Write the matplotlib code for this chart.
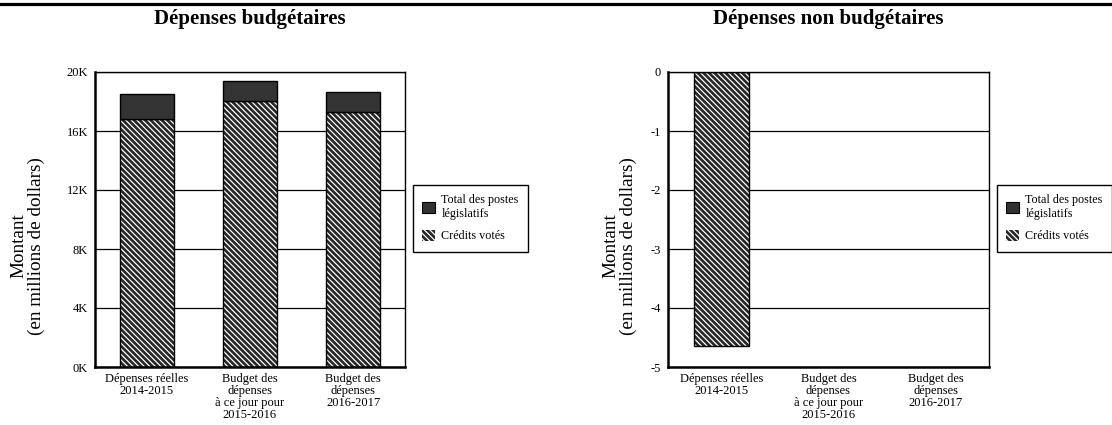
import matplotlib
matplotlib.use("Agg")
import matplotlib.pyplot as plt
from matplotlib.patches import Patch
from matplotlib.lines import Line2D

plt.rcParams['font.family'] = ['Liberation Serif', 'DejaVu Serif']
plt.rcParams['hatch.linewidth'] = 0.9

categories = ["Dépenses réelles\n2014-2015",
              "Budget des\ndépenses\nà ce jour pour\n2015-2016",
              "Budget des\ndépenses\n2016-2017"]

# Dépenses budgétaires (millions $)
budg_credits = [16810, 18060, 17310]
budg_legis = [1680, 1310, 1330]
budg_ticks = [0, 4000, 8000, 12000, 16000, 20000]
budg_ticklabels = ["0K", "4K", "8K", "12K", "16K", "20K"]

# Dépenses non budgétaires (millions $)
nonb_credits = [-4.65, 0, 0]
nonb_legis = [0, 0, 0]
nonb_ticks = [0, -1, -2, -3, -4, -5]
nonb_ticklabels = ["0", "-1", "-2", "-3", "-4", "-5"]

legend_labels = ["Total des postes\nlégislatifs", "Crédits votés"]
titles = ["Dépenses budgétaires", "Dépenses non budgétaires"]
ylabel = "Montant\n(en millions de dollars)"

fig = plt.figure(figsize=(11.12, 4.25), dpi=100)

# top rule
fig.add_artist(Line2D([0, 1], [1 - 4.0/425, 1 - 4.0/425], color='black', lw=2.3,
                      transform=fig.transFigure))

axes_pos = [[95/1112, 1 - 367/425, 310/1112, 295/425],
            [668/1112, 1 - 367/425, 321/1112, 295/425]]
legend_x = [413/1112, 997/1112]
ylabel_x = [28/1112, 620/1112]

datasets = [(budg_credits, budg_legis, budg_ticks, budg_ticklabels, (0, 20000)),
            (nonb_credits, nonb_legis, nonb_ticks, nonb_ticklabels, (-5, 0))]

width = 0.52
hatch_face = '#262626'
legis_color = '#333333'
HATCH = '\\\\\\\\\\\\'

for i, (cred, legis, ticks, tlabels, ylim) in enumerate(datasets):
    ax = fig.add_axes(axes_pos[i])
    x = list(range(len(categories)))
    ax.set_xlim(-0.5, len(categories) - 0.5)
    ax.set_ylim(*ylim)
    ax.set_yticks(ticks)
    ax.set_yticklabels(tlabels, fontsize=9)
    ax.tick_params(axis='y', length=0, pad=5)
    ax.tick_params(axis='x', length=0, pad=4)
    ax.set_xticks(x)
    ax.set_xticklabels(categories, fontsize=9, linespacing=1.0)
    ax.grid(axis='y', color='black', lw=0.9)
    ax.set_axisbelow(True)
    for s in ['left', 'bottom']:
        ax.spines[s].set_linewidth(1.8)
    for s in ['top', 'right']:
        ax.spines[s].set_linewidth(1.0)

    # credits votés (hatched) - only non-zero values produce a visible bar
    xc = [xi for xi, v in zip(x, cred) if v != 0]
    vc = [v for v in cred if v != 0]
    ax.bar(xc, vc, width=width, color=hatch_face, edgecolor='white',
           hatch=HATCH, linewidth=0, zorder=2)
    ax.bar(xc, vc, width=width, facecolor='none', edgecolor='black',
           linewidth=1.0, zorder=3)
    # législatifs
    xl = [xi for xi, v in zip(x, legis) if v != 0]
    vl = [v for v in legis if v != 0]
    bl = [max(c, 0) for c, v in zip(cred, legis) if v != 0]
    ax.bar(xl, vl, bottom=bl, width=width, color=legis_color,
           edgecolor='black', linewidth=1.0, zorder=3)

    ax.set_title(titles[i], fontsize=15, fontweight='bold', pad=0,
                 y=1 + (72 - 19) / 295, va='center')

    fig.text(ylabel_x[i], 1 - 246/425, ylabel, rotation=90, ha='center',
             va='center', fontsize=13.8, linespacing=1.05)

    h1 = Patch(facecolor=legis_color, edgecolor='black', linewidth=0.8)
    h2 = Patch(facecolor=hatch_face, edgecolor='white', hatch=HATCH, linewidth=0)
    leg = fig.legend([h1, h2], legend_labels, loc='upper left',
                     bbox_to_anchor=(legend_x[i], 1 - 185/425),
                     bbox_transform=fig.transFigure,
                     fontsize=8.7, frameon=True, fancybox=False,
                     edgecolor='black', framealpha=1,
                     handlelength=1.1, handleheight=1.1, handletextpad=0.5,
                     labelspacing=0.8, borderpad=0.75, borderaxespad=0)
    leg.get_frame().set_linewidth(1.0)

fig.savefig("out.png", dpi=100)
